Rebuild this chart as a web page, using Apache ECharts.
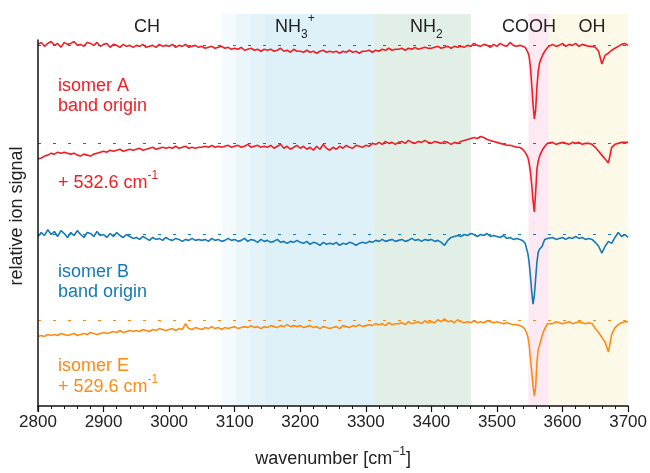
<!DOCTYPE html>
<html>
<head>
<meta charset="utf-8">
<script src="https://cdn.jsdelivr.net/npm/echarts@6/dist/echarts.min.js"></script>
<style>html,body{margin:0;padding:0;background:#fff}#c{width:650px;height:473px}</style>
</head>
<body>
<div id="c"></div>
<script>
// wavenumber grid (cm^-1)
const wavenumber = [
2800,2805,2810,2815,2820,2825,2830,2835,2840,2845,
2850,2855,2860,2865,2870,2875,2880,2885,2890,2895,
2900,2905,2910,2915,2920,2925,2930,2935,2940,2945,
2950,2955,2960,2965,2970,2975,2980,2985,2990,2995,
3000,3005,3010,3015,3020,3025,3030,3035,3040,3045,
3050,3055,3060,3065,3070,3075,3080,3085,3090,3095,
3100,3105,3110,3115,3120,3125,3130,3135,3140,3145,
3150,3155,3160,3165,3170,3175,3180,3185,3190,3195,
3200,3205,3210,3215,3220,3225,3230,3235,3240,3245,
3250,3255,3260,3265,3270,3275,3280,3285,3290,3295,
3300,3305,3310,3315,3320,3325,3330,3335,3340,3345,
3350,3355,3360,3365,3370,3375,3380,3385,3390,3395,
3400,3405,3410,3415,3420,3425,3430,3435,3440,3445,
3450,3455,3460,3465,3470,3475,3480,3485,3490,3495,
3500,3505,3510,3515,3520,3525,3530,3535,
3537,3539,3541,3543,3545,3547,3549,3551,3553,3555,3557,
3559,3561,3563,3565,3567,3569,3571,3573,3575,3577,3579,
3580,3585,3590,3595,3600,3605,3610,3615,3620,3625,3630,3635,
3640,3645,3650,3655,3660,3665,3670,3675,3680,3685,3690,3695,3700
];

// signal change relative to each trace's reference level (in 0.01 units)
const isomerA_origin = [
1,3,-1,2,4,0,2,-2,3,1,
2,4,0,1,-1,3,2,0,3,-1,
1,2,-2,1,0,-2,1,-1,0,-2,
0,-1,1,-2,-1,0,-2,1,-1,0,
-1,1,-2,0,-1,1,-2,-1,0,-2,
-1,-3,-2,-1,-3,-2,-1,-3,-2,-4,
-3,-4,-2,-5,-4,-3,-5,-4,-6,-4,
-5,-4,-6,-5,-3,-6,-5,-7,-4,-6,
-6,-7,-5,-7,-6,-8,-6,-5,-7,-6,
-7,-6,-8,-6,-7,-5,-7,-6,-8,-6,
-6,-5,-7,-5,-6,-4,-5,-3,-5,-4,
-4,-3,-5,-3,-4,-2,-4,-3,-2,-3,
-3,-2,-1,-3,-2,-1,-3,-1,-2,-1,
-2,0,-1,2,0,-1,1,0,-2,1,
-1,2,0,-1,3,0,-1,0,
0,-1,-1,-2,-4,-7,-11,-22,-40,-60,-75,
-66,-42,-26,-18,-14,-11,-8,-6,-4,-2,-1,
-1,1,-1,0,2,-1,1,0,2,-1,1,0,
-1,-1,-2,-6,-19,-10,-8,-5,-3,-1,1,2,0
];
const isomerA_532 = [
-16,-15,-13,-12,-10,-11,-9,-10,-9,-10,
-11,-10,-12,-13,-11,-12,-13,-11,-10,-9,
-8,-9,-7,-8,-7,-6,-8,-7,-6,-7,
-6,-5,-7,-6,-5,-4,-6,-5,-4,-5,
-4,-5,-3,-5,-4,-3,-5,-4,-5,-4,
-4,-3,-4,-2,-4,-3,-4,-3,-2,-4,
-3,-2,-4,-3,-1,-4,-3,-2,-4,-3,
-4,-2,-5,-3,-1,-5,-3,-6,-4,-2,
-5,-3,-6,-4,-7,-3,-6,-1,-5,-7,
-4,-6,-3,-5,-2,-4,-5,-2,-3,-4,
-2,-3,0,-1,1,-1,2,0,1,-1,
1,2,0,3,1,0,2,1,3,1,
0,2,1,0,2,1,-1,1,0,2,
3,4,5,6,5,7,6,4,3,2,
1,0,-1,-2,-2,-3,-4,-4,
-5,-6,-8,-9,-11,-14,-20,-29,-42,-58,-70,
-50,-26,-18,-13,-10,-7,-5,-3,-1,0,1,
0,1,-1,0,1,0,-1,1,0,1,-1,0,
0,-1,-4,-8,-12,-16,-20,-4,-1,0,1,1,1
];
const isomerB_origin = [
-2,2,-1,5,0,3,-2,4,1,-3,
2,-1,4,0,-3,2,1,-2,3,-1,
0,-3,1,-2,2,-1,-3,0,-2,-4,
-3,-5,-2,-4,-6,-3,-5,-4,-6,-3,
-5,-6,-4,-5,-7,-5,-6,-4,-6,-5,
-6,-5,-7,-4,-6,-5,-7,-6,-4,-6,
-5,-7,-6,-4,-7,-5,-6,-8,-5,-7,
-6,-8,-7,-5,-8,-7,-9,-7,-8,-6,
-8,-9,-7,-10,-8,-9,-11,-8,-10,-9,
-10,-8,-11,-9,-10,-8,-9,-11,-9,-8,
-9,-7,-8,-6,-7,-5,-7,-6,-5,-7,
-6,-5,-7,-6,-4,-6,-5,-7,-5,-6,
-5,-7,-6,-8,-11,-6,-3,-2,-1,-2,
0,-1,1,0,-2,0,-1,1,-2,-1,
-2,-3,-1,-4,-3,-5,-4,-5,
-5,-6,-6,-9,-14,-19,-28,-42,-58,-71,-62,
-45,-28,-18,-15,-13,-12,-8,-5,-3,-4,-3,
-4,-3,-5,-4,-3,-5,-3,-4,-2,-4,-3,-5,
-4,-5,-8,-12,-19,-12,-7,-9,-3,2,-2,0,-3
];
const isomerE_530 = [
-16,-15,-16,-14,-15,-14,-15,-13,-14,-15,
-14,-13,-15,-14,-13,-14,-12,-13,-14,-13,
-12,-13,-12,-11,-12,-10,-12,-11,-10,-11,
-10,-11,-9,-10,-11,-9,-10,-8,-9,-10,
-9,-8,-10,-8,-9,-3,-8,-9,-7,-8,
-9,-7,-8,-6,-8,-7,-9,-7,-8,-7,
-6,-8,-7,-6,-7,-5,-7,-6,-8,-6,
-7,-5,-6,-7,-5,-6,-4,-6,-5,-6,
-5,-7,-6,-5,-7,-6,-8,-6,-7,-8,
-7,-6,-8,-5,-6,-7,-5,-6,-4,-6,
-5,-4,-5,-3,-4,-3,-5,-2,-4,-3,
-3,-2,-4,-1,-3,-2,-1,-3,0,-2,
-1,-2,1,-1,2,-1,0,-2,1,-1,
-2,-1,-2,0,-2,-1,-2,0,-1,-2,
-1,-2,-3,-2,-3,-4,-4,-5,
-5,-6,-7,-9,-12,-16,-24,-38,-52,-66,-77,
-68,-42,-29,-25,-20,-15,-11,-8,-6,-3,-2,
-2,-3,-1,-2,-3,-2,-1,-3,-2,-1,-2,-3,
-2,-3,-8,-12,-17,-22,-32,-14,-7,-4,-2,-1,-1
];

// vertical offsets (reference levels) of the four traces
const traceNames = ['isomer A band origin', 'isomer A + 532.6', 'isomer B band origin', 'isomer E + 529.6'];
const traceOffsets = [3.68, 2.68, 1.75, 0.87];
const traceValues = [isomerA_origin, isomerA_532, isomerB_origin, isomerE_530];

// spectral regions (cm^-1)
const regionStarts = [3080, 3102, 3123, 3145, 3312, 3548, 3579];
const regionEnds   = [3102, 3123, 3145, 3312, 3460, 3579, 3700];

const xTicks = [2800, 3700, 100];

// ---- styles ----
const traceColors = ['#f21d24', '#f21d24', '#1479b8', '#ff8a12'];
const regionColors = ['#f4fafd', '#ebf6fb', '#e4f3fa', '#dff1f8', '#e1efe7', '#fde9f2', '#fdf9e8'];
const FONT = 'Liberation Sans, Arial, Helvetica, sans-serif';

const chart = echarts.init(document.getElementById('c'), null, {renderer: 'canvas'});

const series = [];
series.push({
  type: 'line', data: [], xAxisIndex: 0, yAxisIndex: 0, z: 1, silent: true,
  markArea: {
    silent: true,
    data: regionStarts.map((s, i) => [
      {xAxis: s, itemStyle: {color: regionColors[i]}},
      {xAxis: regionEnds[i]}
    ])
  }
});
traceValues.forEach((vals, k) => {
  series.push({
    name: traceNames[k],
    type: 'line',
    xAxisIndex: 0, yAxisIndex: 0,
    z: 3,
    showSymbol: false,
    silent: true,
    lineStyle: {color: traceColors[k], width: 1.6},
    data: wavenumber.map((w, i) => [w, traceOffsets[k] + vals[i] / 100]),
    markLine: {
      silent: true, symbol: 'none', label: {show: false},
      lineStyle: {color: traceColors[k], type: [3, 12], width: 1.2},
      data: [{yAxis: traceOffsets[k]}]
    }
  });
});

const subRich = {
  m: {fontSize: 18, fontFamily: FONT, fill: '#222', lineHeight: 28, verticalAlign: 'middle'},
  sub: {fontSize: 12, fontFamily: FONT, fill: '#222', lineHeight: 12, verticalAlign: 'bottom'},
  sup: {fontSize: 12, fontFamily: FONT, fill: '#222', lineHeight: 12, verticalAlign: 'top'}
};
function supRichG(color) {
  return {
    m: {fontSize: 18, fontFamily: FONT, fill: color, lineHeight: 26, verticalAlign: 'middle'},
    sup: {fontSize: 12, fontFamily: FONT, fill: color, lineHeight: 12, verticalAlign: 'top'}
  };
}
function txt(text, x, y, color, extra) {
  return {
    type: 'text', x: x, y: y, silent: true, z: 10,
    style: Object.assign({text: text, fill: color, font: '18px ' + FONT, textVerticalAlign: 'middle', lineHeight: 20}, extra || {})
  };
}

const option = {
  animation: false,
  backgroundColor: '#fff',
  grid: [
    {left: 38, right: 21, top: 14, bottom: 62},
    {left: 38, right: 21, top: 40, bottom: 62}
  ],
  xAxis: [
    {
      type: 'value', gridIndex: 0, min: xTicks[0], max: xTicks[1], interval: xTicks[2],
      z: 10,
      axisLine: {show: true, lineStyle: {color: '#111', width: 1.5}},
      axisTick: {show: true, length: 6, lineStyle: {color: '#111', width: 1.2}},
      minorTick: {show: true, splitNumber: 5, length: 3, lineStyle: {color: '#111', width: 1}},
      splitLine: {show: false},
      axisLabel: {fontSize: 17, color: '#222', fontFamily: FONT, margin: 8, formatter: v => String(v)},
      name: '{m|wavenumber [cm}{sup|−1}{m|]}',
      nameLocation: 'middle', nameGap: 40,
      nameTextStyle: {rich: {
        m: {fontSize: 18, fontFamily: FONT, color: '#222', lineHeight: 26, verticalAlign: 'middle'},
        sup: {fontSize: 12, fontFamily: FONT, color: '#222', lineHeight: 12, verticalAlign: 'top'}
      }}
    },
    {type: 'value', gridIndex: 1, min: xTicks[0], max: xTicks[1], show: false}
  ],
  yAxis: [
    {type: 'value', gridIndex: 0, min: 0, max: 4, show: false},
    {
      type: 'value', gridIndex: 1, min: 0, max: 1, z: 10,
      axisLine: {show: true, lineStyle: {color: '#111', width: 1.5}},
      axisTick: {show: false}, axisLabel: {show: false}, splitLine: {show: false}
    }
  ],
  series: series,
  graphic: [
    txt('CH', 147, 27, '#222', {textAlign: 'center'}),
    {type: 'text', x: 275, y: 27, silent: true, z: 10,
      style: {text: '{m|NH}{sub|3}{sup|+}', rich: subRich, textVerticalAlign: 'middle'}},
    {type: 'text', x: 410, y: 27, silent: true, z: 10,
      style: {text: '{m|NH}{sub|2}', rich: subRich, textVerticalAlign: 'middle'}},
    txt('COOH', 529, 27, '#222', {textAlign: 'center'}),
    txt('OH', 592, 27, '#222', {textAlign: 'center'}),
    txt('isomer A\nband origin', 58, 96, traceColors[0]),
    {type: 'text', x: 58, y: 183, silent: true, z: 10,
      style: {text: '{m|+ 532.6 cm}{sup|-1}', rich: supRichG(traceColors[1]), textVerticalAlign: 'middle'}},
    txt('isomer B\nband origin', 58, 282, traceColors[2]),
    txt('isomer E', 58, 366, traceColors[3]),
    {type: 'text', x: 58, y: 387, silent: true, z: 10,
      style: {text: '{m|+ 529.6 cm}{sup|-1}', rich: supRichG(traceColors[3]), textVerticalAlign: 'middle'}},
    {type: 'text', x: 17, y: 216, rotation: Math.PI / 2, silent: true, z: 10,
      style: {text: 'relative ion signal', fill: '#222', font: '18px ' + FONT, textAlign: 'center', textVerticalAlign: 'middle'}}
  ]
};
chart.setOption(option);
</script>
</body>
</html>
